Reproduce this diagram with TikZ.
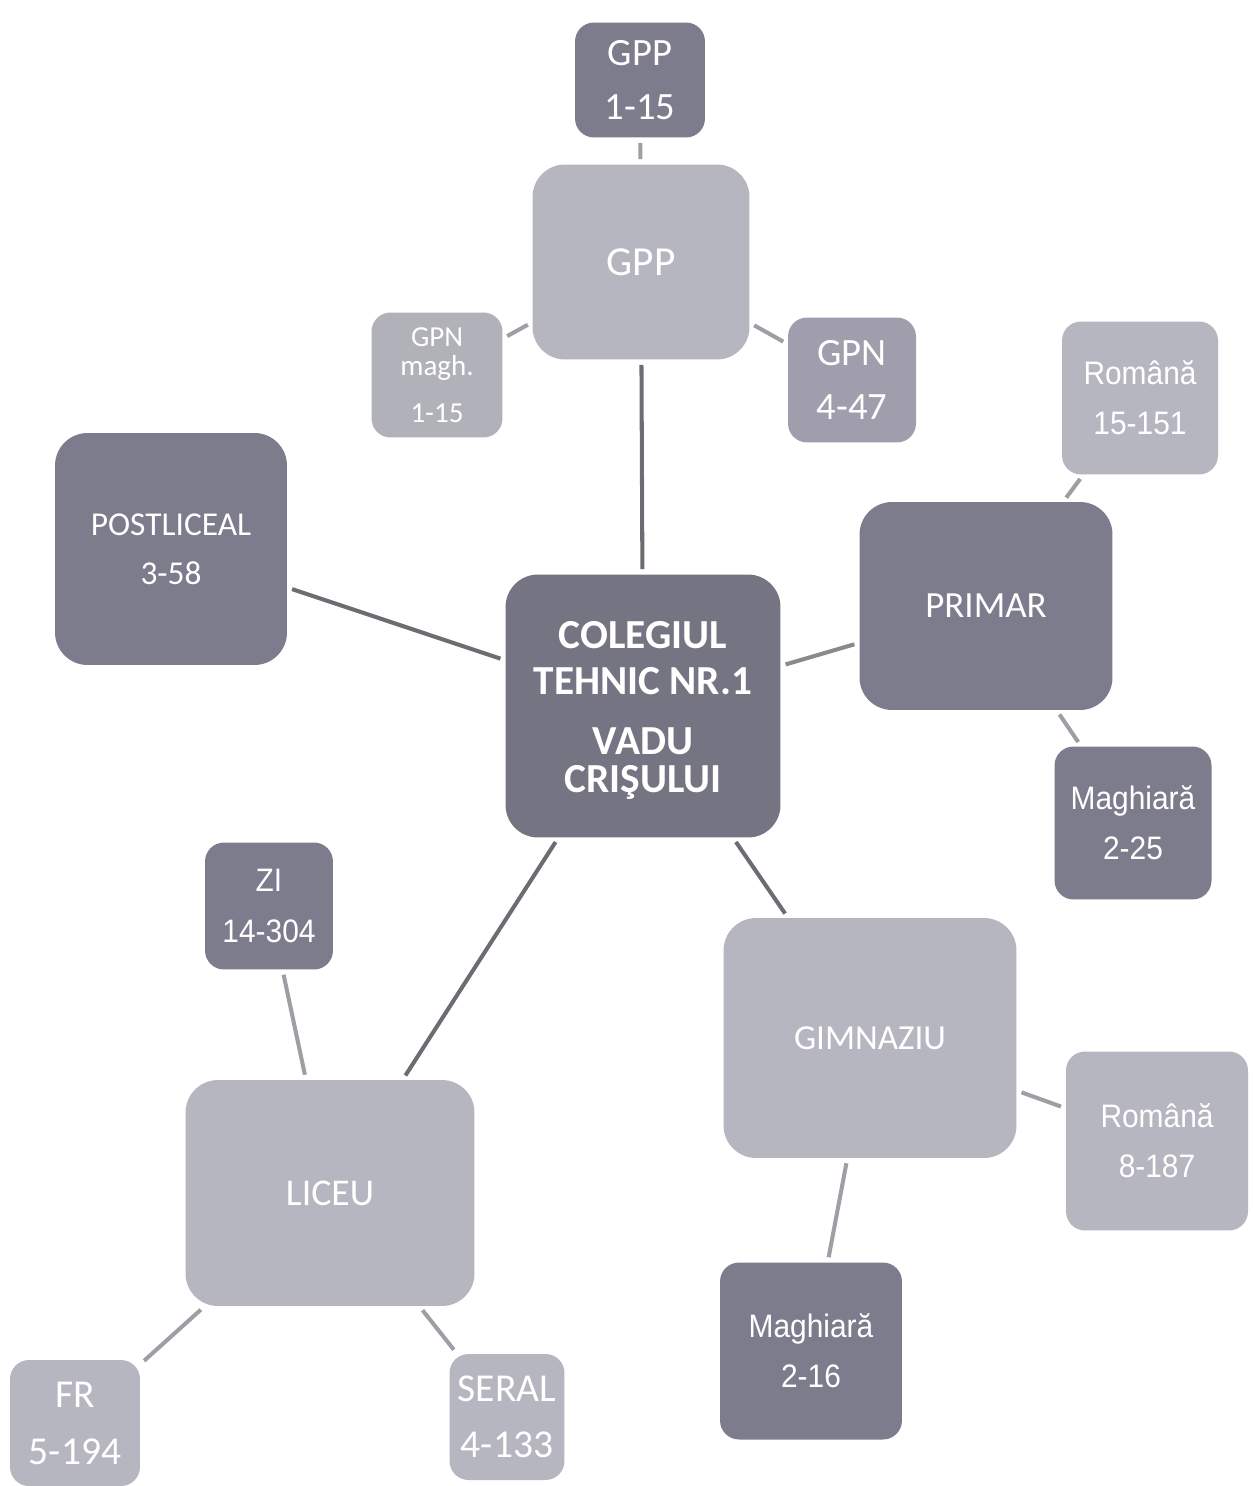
\documentclass[tikz,border=0pt]{standalone}
\usepackage{fontspec}
\setmainfont{Carlito}
\newfontfamily\narrowfont[FakeStretch=0.92]{Liberation Sans}
\usepackage{tikz}

\definecolor{centrebox}{RGB}{116,116,130}
\definecolor{darkbox}{RGB}{124,124,140}
\definecolor{midbox}{RGB}{160,158,172}
\definecolor{lightbox}{RGB}{182,182,192}
\definecolor{linedark}{RGB}{108,108,114}
\definecolor{linelight}{RGB}{158,158,164}

\begin{document}
\begin{tikzpicture}[x=0.02cm,y=-0.02cm,
  box/.style={fill=lightbox,text=white,align=center,inner sep=0pt,font=\fontsize{22}{31}\selectfont},
  dark/.style={fill=darkbox},
  big/.style={rounded corners=0.65cm},
  small/.style={rounded corners=0.38cm},
  narrow/.style={font=\narrowfont\fontsize{18.5}{28.5}\selectfont},
  link/.style={line width=2.3pt,draw=linedark,shorten <=0.1cm,shorten >=0.1cm},
  sublink/.style={line width=2.3pt,draw=linelight,shorten <=0.1cm,shorten >=0.1cm}]
\useasboundingbox (0,0) rectangle (1253,1486);
% centre
\node [box,big,fill=centrebox,minimum width=5.5cm,minimum height=5.26cm,
  label={[text=white,align=center,inner sep=0pt,yshift=-0.09cm,font=\bfseries\fontsize{23.5}{21.5}\selectfont]center:{COLEGIUL\\[4.5pt]TEHNIC NR.1\\[13pt]VADU\\CRIŞULUI}}] (colegiu) at (643,706) {};
% GPP
\node [box,small,dark,minimum width=2.6cm,minimum height=2.3cm] (gppsus) at (640,80) {GPP\\1-15};
\node [box,big,minimum width=4.34cm,minimum height=3.9cm,font=\fontsize{23.5}{31}\selectfont] (gpp) at (641,262) {GPP};
\node [box,small,fill=lightbox!90!gray,minimum width=2.62cm,minimum height=2.5cm,font=\fontsize{16.5}{17}\selectfont] (gpnmagh) at (437,375) {GPN\\magh.\\[9.6pt]1-15};
\node [box,small,fill=midbox,minimum width=2.56cm,minimum height=2.5cm] (gpn) at (852,380) {GPN\\4-47};
% primar
\node [box,big,dark,minimum width=5.06cm,minimum height=4.16cm,font=\fontsize{21}{31}\selectfont] (primar) at (986,606) {PRIMAR};
\node [box,small,narrow,minimum width=3.12cm,minimum height=3.06cm] (romprimar) at (1140,398) {Română\\15-151};
\node [box,small,dark,narrow,minimum width=3.14cm,minimum height=3.06cm] (maghprimar) at (1133,823) {Maghiară\\2-25};
% postliceal
\node [box,big,dark,minimum width=4.64cm,minimum height=4.64cm,font=\fontsize{19}{28}\selectfont] (postliceal) at (171,549) {POSTLICEAL\\3-58};
% gimnaziu
\node [box,big,minimum width=5.86cm,minimum height=4.8cm,font=\fontsize{20}{28}\selectfont] (gimnaziu) at (870,1038) {GIMNAZIU};
\node [box,small,narrow,minimum width=3.64cm,minimum height=3.58cm] (romgimn) at (1157,1141) {Română\\8-187};
\node [box,small,dark,narrow,minimum width=3.64cm,minimum height=3.54cm] (maghgimn) at (811,1351) {Maghiară\\2-16};
% liceu
\node [box,big,minimum width=5.78cm,minimum height=4.52cm,font=\fontsize{21.5}{28}\selectfont] (liceu) at (330,1193) {LICEU};
\node [box,small,dark,narrow,minimum width=2.56cm,minimum height=2.54cm] (zi) at (269,906) {ZI\\14-304};
\node [box,small,minimum width=2.6cm,minimum height=2.52cm,font=\fontsize{22.5}{32.5}\selectfont] (fr) at (75,1423) {FR\\5-194};
\node [box,small,minimum width=2.3cm,minimum height=2.52cm,font=\fontsize{22.5}{32}\selectfont] (seral) at (507,1417) {SERAL\\4-133};
% legaturi
\draw [link] (colegiu) -- (gpp);
\draw [link] (colegiu) -- (postliceal);
\draw [link,draw=linedark!80!white] (colegiu) -- (primar);
\draw [link] (colegiu) -- (gimnaziu);
\draw [link] (colegiu) -- (liceu);
\draw [sublink] (gpp) -- (gppsus);
\draw [sublink] (gpp) -- (gpnmagh);
\draw [sublink] (gpp) -- (gpn);
\draw [sublink] (primar) -- (romprimar);
\draw [sublink] (primar) -- (maghprimar);
\draw [sublink] (gimnaziu) -- (romgimn);
\draw [sublink] (gimnaziu) -- (maghgimn);
\draw [sublink] (liceu) -- (zi);
\draw [sublink] (liceu) -- (fr);
\draw [sublink] (liceu) -- (seral);
\end{tikzpicture}
\end{document}
